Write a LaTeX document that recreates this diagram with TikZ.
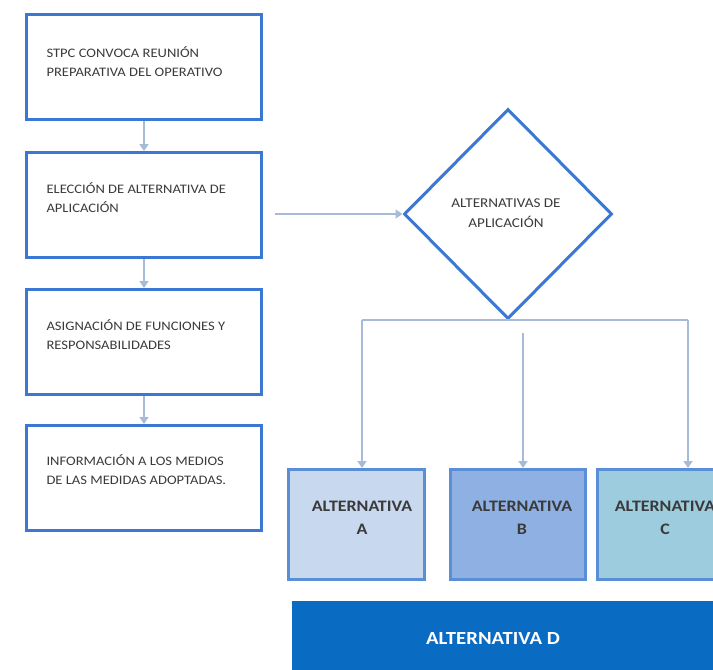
\documentclass[tikz,border=0pt]{standalone}
\usepackage{fontspec}
\setmainfont{Carlito}
\newfontfamily\wide[FakeStretch=1.12]{Carlito}
\usetikzlibrary{shapes.geometric,arrows.meta}
\definecolor{boxblue}{HTML}{3A78D4}
\definecolor{conn}{HTML}{A8BADA}
\definecolor{txt}{HTML}{3A3A3A}
\definecolor{fillA}{HTML}{C8D8EF}
\definecolor{fillB}{HTML}{8EB0E2}
\definecolor{fillC}{HTML}{9CCCDE}
\definecolor{fillD}{HTML}{0A6BC2}
\definecolor{borderAlt}{HTML}{5A8FD8}
\tikzset{
  stepbox/.style={draw=boxblue, line width=3pt, minimum width=235pt, minimum height=105pt, anchor=north west, inner sep=0pt},
  steptext/.style={anchor=west, text=txt, font=\wide\fontsize{13}{19}\selectfont, align=left},
  altbox/.style={draw=borderAlt, line width=2.5pt, minimum height=110pt, anchor=north west, inner sep=0pt},
  alttext/.style={text=txt, font=\wide\fontsize{16}{23}\selectfont\bfseries, align=center},
  conline/.style={draw=conn, line width=2.5pt},
  conarrow/.style={conline, -{Triangle[length=7pt,width=9pt]}}
}
\begin{document}
\begin{tikzpicture}[x=1pt,y=-1pt]
\useasboundingbox (0,0) rectangle (713,670);
\clip (0,0) rectangle (713,670);
% left column
\node[stepbox] (b1) at (25,13) {};
\node[stepbox] (b2) at (25,151) {};
\node[stepbox] (b3) at (25,288) {};
\node[stepbox] (b4) at (25,424) {};
\node[steptext] (t1) at (43,62) {STPC CONVOCA REUNIÓN\\PREPARATIVA DEL OPERATIVO};
\node[steptext] (t2) at (43,198) {ELECCIÓN DE ALTERNATIVA DE\\APLICACIÓN};
\node[steptext] (t3) at (43,335) {ASIGNACIÓN DE FUNCIONES Y\\RESPONSABILIDADES};
\node[steptext] (t4) at (43,470) {INFORMACIÓN A LOS MEDIOS\\DE LAS MEDIDAS ADOPTADAS.};
\draw[conarrow] (b1.south) -- (b2.north);
\draw[conarrow] (b2.south) -- (b3.north);
\draw[conarrow] (b3.south) -- (b4.north);
% diamond
\node[diamond, draw=boxblue, line width=3pt, minimum width=208pt, minimum height=210pt, inner sep=0pt, aspect=1] (dia) at (508,214) {};
\node[text=txt, font=\wide\fontsize{13.5}{20}\selectfont, align=center] (dt) at (506,213) {ALTERNATIVAS DE\\APLICACIÓN};
\coordinate (src) at (275,214);
\draw[conarrow] (src) -- (dia.west);
% alternatives
\node[altbox, fill=fillA, minimum width=136pt] (A) at (287,468) {};
\node[altbox, fill=fillB, minimum width=135pt] (B) at (449,468) {};
\node[altbox, fill=fillC, minimum width=140pt] (C) at (596,468) {};
\node[fill=fillD, minimum width=440pt, minimum height=80pt, anchor=north west, inner sep=0pt] (D) at (292,601) {};
\node[alttext] (tA) at (362,518) {ALTERNATIVA\\A};
\node[alttext] (tB) at (522,518) {ALTERNATIVA\\B};
\node[alttext] (tC) at (665,518) {ALTERNATIVA\\C};
\node[text=white, font=\wide\fontsize{18.5}{22}\selectfont\bfseries] (tD) at (493,638) {ALTERNATIVA D};
% bus
\coordinate (busL) at (362,320);
\coordinate (busR) at (688,320);
\coordinate (midtop) at (523,333);
\draw[conline] (busL) -- (busR);
\draw[conarrow] (busL) -- (busL |- A.north);
\draw[conarrow] (busR) -- (busR |- C.north);
\draw[conarrow] (midtop) -- (midtop |- B.north);
\end{tikzpicture}
\end{document}
